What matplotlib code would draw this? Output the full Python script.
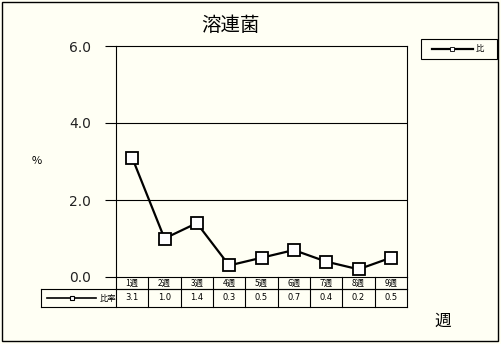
import matplotlib.pyplot as plt
from matplotlib.patches import Rectangle
from matplotlib.lines import Line2D

plt.rcParams['font.family'] = ['Noto Sans CJK JP', 'DejaVu Sans']

# ---------- data ----------
weeks = ["1週", "2週", "3週", "4週", "5週", "6週", "7週", "8週", "9週"]
ratio = [3.1, 1.0, 1.4, 0.3, 0.5, 0.7, 0.4, 0.2, 0.5]
series_name = "比率"
yticks = [0.0, 2.0, 4.0, 6.0]

BG = "#fffff4"
W, H = 501, 344

fig = plt.figure(figsize=(W / 100, H / 100), dpi=100, facecolor=BG)

def fx(px):
    return px / W

def fy(py):
    return 1 - py / H

# outer frame
fig.patches.append(Rectangle((fx(2), fy(341)), fx(496), 339 / H, transform=fig.transFigure,
                             fill=False, edgecolor="black", linewidth=1))

ax = fig.add_axes([fx(116), fy(277), fx(291), 231 / H])
ax.set_facecolor(BG)
x = list(range(len(weeks)))
ax.plot(x, ratio, color="black", linewidth=1.6, marker="s", markersize=8.5,
        markerfacecolor="white", markeredgecolor="black", markeredgewidth=1.3, zorder=3)
ax.set_xlim(-0.5, len(weeks) - 0.5)
ax.set_ylim(0, 6)
ax.set_yticks(yticks)
ax.set_yticklabels([f"{v:.1f}" for v in yticks], fontsize=10, family="DejaVu Sans",
                   color="#222222")
ax.tick_params(axis="y", length=8, pad=10, width=0.8)
ax.set_xticks([])
for v in yticks[1:-1]:
    ax.axhline(v, color="black", linewidth=0.8)
for s in ax.spines.values():
    s.set_linewidth(0.8)

# data table under the axis
def ay(py):
    return -(py - 277) / 231

tb = ax.transAxes
tkw = dict(transform=tb, color="black", linewidth=0.8, clip_on=False)
left = (41 - 116) / 291
ax.add_line(Line2D([0, 1], [ay(289), ay(289)], **tkw))
ax.add_line(Line2D([left, 1], [ay(289), ay(289)], **tkw))
ax.add_line(Line2D([left, 1], [ay(307), ay(307)], **tkw))
ax.add_line(Line2D([left, left], [ay(289), ay(307)], **tkw))
n = len(weeks)
for i in range(n + 1):
    ax.add_line(Line2D([i / n, i / n], [0, ay(307)], **tkw))
for i, (w, r) in enumerate(zip(weeks, ratio)):
    xc = (i + 0.5) / n
    ax.text(xc, ay(283.5), w, transform=tb, ha="center", va="center", fontsize=6)
    ax.text(xc, ay(298), f"{r:.1f}", transform=tb, ha="center", va="center",
            fontsize=6, family="DejaVu Sans")
# series key in table
ax.add_line(Line2D([left + 0.02, left + 0.19], [ay(298), ay(298)], transform=tb,
                   color="black", linewidth=1.2, clip_on=False))
ax.plot([left + 0.105], [ay(298)], transform=tb, marker="s", markersize=3.5,
        markerfacecolor="white", markeredgecolor="black", markeredgewidth=0.8, clip_on=False)
ax.text(left + 0.2, ay(298), series_name, transform=tb, ha="left", va="center", fontsize=6)

# legend box
fig.patches.append(Rectangle((fx(421), fy(59)), fx(76), 20 / H, transform=fig.transFigure,
                             fill=False, edgecolor="black", linewidth=0.8))
fig.lines.append(Line2D([fx(432), fx(473)], [fy(49), fy(49)], transform=fig.transFigure,
                        color="black", linewidth=1.6))
fig.lines.append(Line2D([fx(452)], [fy(49)], transform=fig.transFigure, marker="s",
                        markersize=2.2, markerfacecolor="white", markeredgecolor="black",
                        markeredgewidth=0.6))
fig.text(fx(476), fy(49), series_name[0], ha="left", va="center", fontsize=6)

# titles
fig.text(fx(230), fy(25), "溶連菌", ha="center", va="center", fontsize=14)
fig.text(fx(37), fy(161), "%", ha="center", va="center", fontsize=8)
fig.text(fx(443), fy(321), "週", ha="center", va="center", fontsize=12)

fig.savefig("out.png", dpi=100, facecolor=BG)
